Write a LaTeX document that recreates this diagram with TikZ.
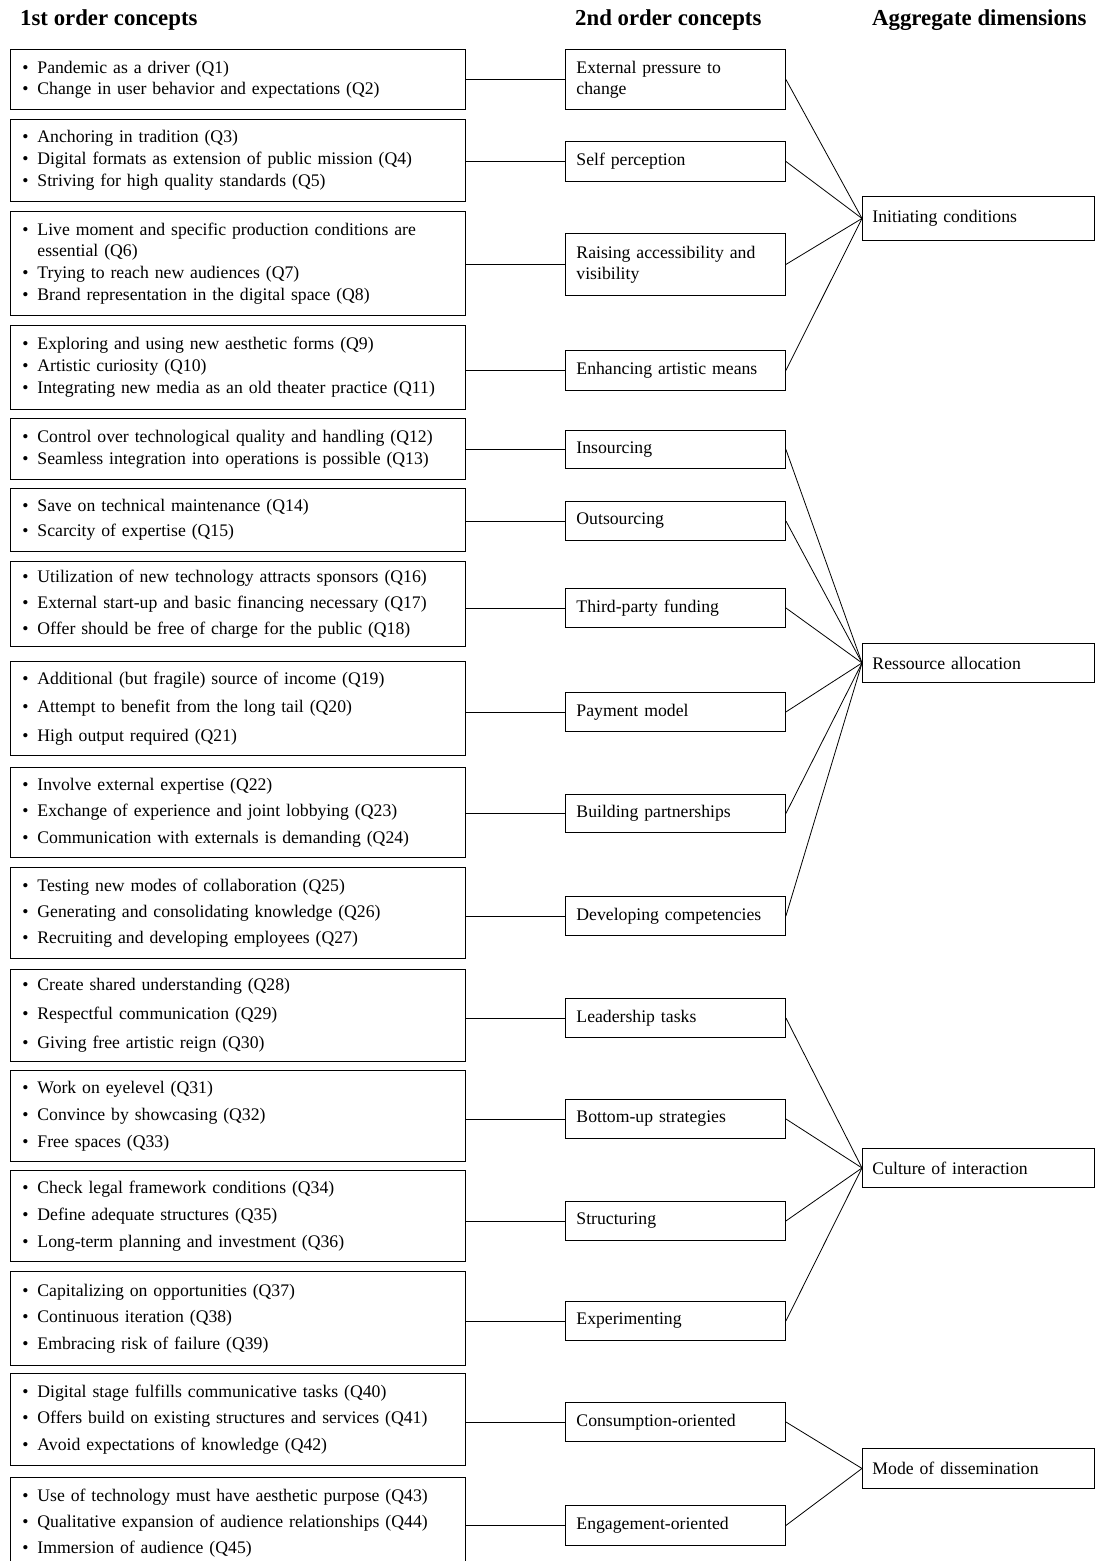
\documentclass[tikz,border=0pt]{standalone}
\usepackage{fontspec}
\setmainfont{Liberation Serif}
\newcommand\bul{\makebox[15pt][l]{\textbullet}}
\newcommand\hangsp{\makebox[15pt]{}}
\begin{document}
\begin{tikzpicture}[x=1pt,y=-1pt,
  hdr/.style={anchor=base west, inner sep=0pt, font=\fontsize{22.8}{26}\selectfont\bfseries},
  firstbox/.style 2 args={draw, line width=0.9pt, anchor=north west, minimum width=455pt, text width=431pt, inner xsep=12pt, inner ysep=0pt, align=left, minimum height=#1, font=\fontsize{17.7}{#2}\selectfont},
  secondbox/.style={draw, line width=0.9pt, anchor=north west, minimum width=220pt, text width=198pt, inner xsep=11pt, inner ysep=0pt, align=left, minimum height=#1, font=\fontsize{17.7}{21}\selectfont},
  aggbox/.style={draw, line width=0.9pt, anchor=north west, minimum width=232pt, text width=212pt, inner xsep=10pt, inner ysep=0pt, align=left, minimum height=#1, font=\fontsize{17.7}{21}\selectfont},
  link/.style={draw, line width=0.8pt}
]
\useasboundingbox (0,0) rectangle (1095,1561);

% headers
\node[hdr] (h1) at (20,25) {1st order concepts};
\node[hdr] (h2) at (575,25) {2nd order concepts};
\node[hdr] (h3) at (872,25) {Aggregate dimensions};

% first order boxes
\node[firstbox={60}{21}] (f1) at (10,49) {\bul Pandemic as a driver (Q1)\\ \bul Change in user behavior and expectations (Q2)};
\node[firstbox={82}{22}] (f2) at (10,119) {\bul Anchoring in tradition (Q3)\\ \bul Digital formats as extension of public mission (Q4)\\ \bul Striving for high quality standards (Q5)};
\node[firstbox={104}{21.7}] (f3) at (10,211) {\bul Live moment and specific production conditions are\\ \hangsp essential (Q6)\\ \bul Trying to reach new audiences (Q7)\\ \bul Brand representation in the digital space (Q8)};
\node[firstbox={84}{22}] (f4) at (10,325) {\bul Exploring and using new aesthetic forms (Q9)\\ \bul Artistic curiosity (Q10)\\ \bul Integrating new media as an old theater practice (Q11)};
\node[firstbox={61}{22}] (f5) at (10,418) {\bul Control over technological quality and handling (Q12)\\ \bul Seamless integration into operations is possible (Q13)};
\node[firstbox={63}{25}] (f6) at (10,488) {\bul Save on technical maintenance (Q14)\\ \bul Scarcity of expertise (Q15)};
\node[firstbox={85}{26}] (f7) at (10,561) {\bul Utilization of new technology attracts sponsors (Q16)\\ \bul External start-up and basic financing necessary (Q17)\\ \bul Offer should be free of charge for the public (Q18)};
\node[firstbox={94}{28.5}] (f8) at (10,661) {\bul Additional (but fragile) source of income (Q19)\\ \bul Attempt to benefit from the long tail (Q20)\\ \bul High output required (Q21)};
\node[firstbox={90}{26.5}] (f9) at (10,767) {\bul Involve external expertise (Q22)\\ \bul Exchange of experience and joint lobbying (Q23)\\ \bul Communication with externals is demanding (Q24)};
\node[firstbox={91}{26}] (f10) at (10,867) {\bul Testing new modes of collaboration (Q25)\\ \bul Generating and consolidating knowledge (Q26)\\ \bul Recruiting and developing employees (Q27)};
\node[firstbox={92}{29}] (f11) at (10,969) {\bul Create shared understanding (Q28)\\ \bul Respectful communication (Q29)\\ \bul Giving free artistic reign (Q30)};
\node[firstbox={91}{27}] (f12) at (10,1070) {\bul Work on eyelevel (Q31)\\ \bul Convince by showcasing (Q32)\\ \bul Free spaces (Q33)};
\node[firstbox={91}{27}] (f13) at (10,1170) {\bul Check legal framework conditions (Q34)\\ \bul Define adequate structures (Q35)\\ \bul Long-term planning and investment (Q36)};
\node[firstbox={94}{26.5}] (f14) at (10,1271) {\bul Capitalizing on opportunities (Q37)\\ \bul Continuous iteration (Q38)\\ \bul Embracing risk of failure (Q39)};
\node[firstbox={92}{26.5}] (f15) at (10,1373) {\bul Digital stage fulfills communicative tasks (Q40)\\ \bul Offers build on existing structures and services (Q41)\\ \bul Avoid expectations of knowledge (Q42)};
\node[firstbox={92}{26}] (f16) at (10,1477) {\bul Use of technology must have aesthetic purpose (Q43)\\ \bul Qualitative expansion of audience relationships (Q44)\\ \bul Immersion of audience (Q45)};

% second order boxes
\node[secondbox=60] (s1) at (565,49) {External pressure to\\ change};
\node[secondbox=40] (s2) at (565,141) {Self perception};
\node[secondbox=62] (s3) at (565,233) {Raising accessibility and\\ visibility};
\node[secondbox=40] (s4) at (565,350) {Enhancing artistic means};
\node[secondbox=38] (s5) at (565,430) {Insourcing};
\node[secondbox=39] (s6) at (565,501) {Outsourcing};
\node[secondbox=39] (s7) at (565,588) {Third-party funding};
\node[secondbox=39] (s8) at (565,692) {Payment model};
\node[secondbox=38] (s9) at (565,794) {Building partnerships};
\node[secondbox=39] (s10) at (565,896) {Developing competencies};
\node[secondbox=39] (s11) at (565,998) {Leadership tasks};
\node[secondbox=39] (s12) at (565,1099) {Bottom-up strategies};
\node[secondbox=39] (s13) at (565,1201) {Structuring};
\node[secondbox=39] (s14) at (565,1301) {Experimenting};
\node[secondbox=39] (s15) at (565,1402) {Consumption-oriented};
\node[secondbox=40] (s16) at (565,1505) {Engagement-oriented};

% aggregate boxes
\node[aggbox=44] (a1) at (862,196) {Initiating conditions};
\node[aggbox=39] (a2) at (862,643) {Ressource allocation};
\node[aggbox=39] (a3) at (862,1148) {Culture of interaction};
\node[aggbox=40] (a4) at (862,1448) {Mode of dissemination};

% first -> second
\foreach \i in {1,...,16}
  \draw[link] (s\i.west) -- (s\i.west -| f\i.east);

% second -> aggregate
\foreach \i in {1,...,4}
  \draw[link] (s\i.east) -- (a1.west);
\foreach \i in {5,...,10}
  \draw[link] (s\i.east) -- (a2.west);
\foreach \i in {11,...,14}
  \draw[link] (s\i.east) -- (a3.west);
\foreach \i in {15,16}
  \draw[link] (s\i.east) -- (a4.west);
\end{tikzpicture}
\end{document}
